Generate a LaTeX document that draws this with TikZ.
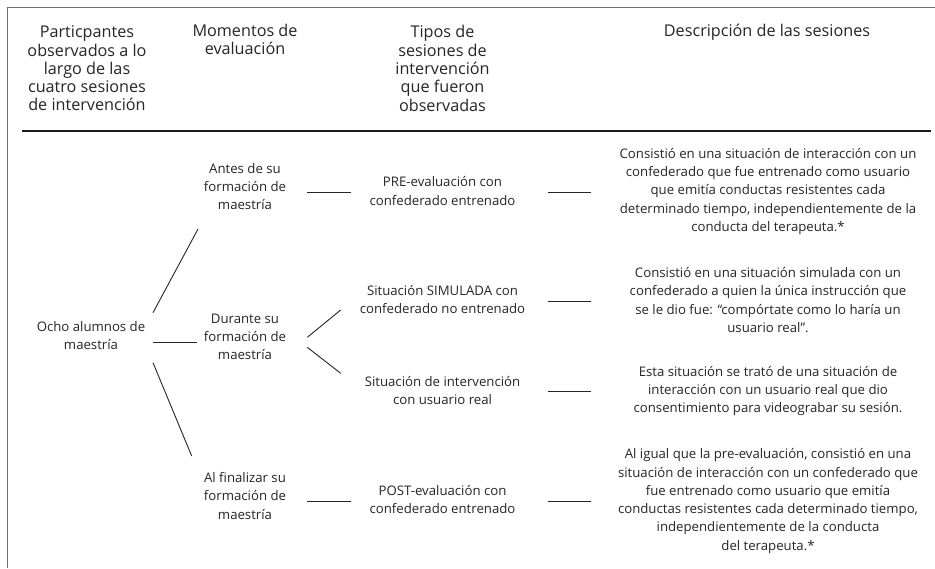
\documentclass[tikz,border=0pt]{standalone}
\usepackage{fontspec}
\setmainfont{Open Sans}
\definecolor{txt}{HTML}{262626}
\definecolor{frame}{HTML}{6E6E6E}
\begin{document}
\begin{tikzpicture}[x=1pt,y=-1pt,
  hd/.style={align=center,inner sep=0pt,text=txt,font=\fontsize{16.2}{18.3}\selectfont},
  bd/.style={align=center,inner sep=0pt,text=txt,font=\fontsize{13.2}{18.3}\selectfont},
  ln/.style={draw=black!85,line width=0.9pt}]
\useasboundingbox (0,0) rectangle (935,568);
\fill[white] (0,0) rectangle (935,568);
% frame
\draw[frame,line width=1.6pt] (935,7.5) -- (7.5,7.5) -- (7.5,568);
% headers
\node[hd] (h1) at (87,68.5) {Particpantes\\observados a lo\\largo de las\\cuatro sesiones\\de intervención};
\node[hd,anchor=north] (h2) at (245,24) {Momentos de\\evaluación};
\node[hd] (h3) at (442.5,68.5) {Tipos de\\sesiones de\\intervención\\que fueron\\observadas};
\node[hd,anchor=north] (h4) at (767,24) {Descripción de las sesiones};
\coordinate (rl) at (22,131);
\coordinate (rr) at (931,131);
\draw[line width=1.3pt,black!90] (rl) -- (rr);
% column 1
\node[bd] (ocho) at (91,335.5) {Ocho alumnos de\\maestría};
% column 2
\node[bd] (antes) at (245,186.7) {Antes de su\\formación de\\maestría};
\node[bd] (dur) at (245,336.7) {Durante su\\formación de\\maestría};
\node[bd] (fin) at (245,496) {Al finalizar su\\formación de\\maestría};
% column 3
\node[bd] (pre) at (442.5,191) {PRE-evaluación con\\confederado entrenado};
\node[bd] (sim) at (442.5,299.2) {Situación SIMULADA con\\confederado no entrenado};
\node[bd] (real) at (442.5,390.2) {Situación de intervención\\con usuario real};
\node[bd] (post) at (442.5,499.2) {POST-evaluación con\\confederado entrenado};
% column 4
\node[bd] (d1) at (768,191.3) {Consistió en una situación de interacción con un\\confederado que fue entrenado como usuario\\que emitía conductas resistentes cada\\determinado tiempo, independientemente de la\\conducta del terapeuta.*};
\node[bd] (d2) at (768,300) {Consistió en una situación simulada con un\\confederado a quien la única instrucción que\\se le dio fue: “compórtate como lo haría un\\usuario real”.};
\node[bd] (d3) at (768,391) {Esta situación se trató de una situación de\\interacción con un usuario real que dio\\consentimiento para videograbar su sesión.};
\node[bd] (d4) at (768,501) {Al igual que la pre-evaluación, consistió en una\\situación de interacción con un confederado que\\fue entrenado como usuario que emitía\\conductas resistentes cada determinado tiempo,\\independientemente de la conducta\\del terapeuta.*};
% connectors
\draw[ln] ([shift={(62,-22.8)}]ocho.center) -- ([shift={(-47,42.3)}]antes.center);
\draw[ln] ([shift={(62,6.8)}]ocho.center) -- ([shift={(-48,5.6)}]dur.center);
\draw[ln] ([shift={(62,27.2)}]ocho.center) -- ([shift={(-53.3,-40)}]fin.center);
\draw[ln] ([shift={(62.3,5.6)}]antes.center) -- ([shift={(-91.8,1.3)}]pre.center);
\draw[ln] ([shift={(62.3,0.6)}]dur.center) -- ([shift={(-101.8,10.8)}]sim.center);
\draw[ln] ([shift={(62.3,10.6)}]dur.center) -- ([shift={(-101.8,-16.9)}]real.center);
\draw[ln] ([shift={(62.3,5.7)}]fin.center) -- ([shift={(-91.8,2.5)}]post.center);
\draw[ln] ([shift={(105.8,1.3)}]pre.center) -- ([shift={(-177.3,1)}]d1.center);
\draw[ln] ([shift={(105.8,2.5)}]sim.center) -- ([shift={(-177.3,1.7)}]d2.center);
\draw[ln] ([shift={(105.8,1.5)}]real.center) -- ([shift={(-177.3,0.7)}]d3.center);
\draw[ln] ([shift={(105.8,2.5)}]post.center) -- ([shift={(-177.3,0.7)}]d4.center);
\end{tikzpicture}
\end{document}
